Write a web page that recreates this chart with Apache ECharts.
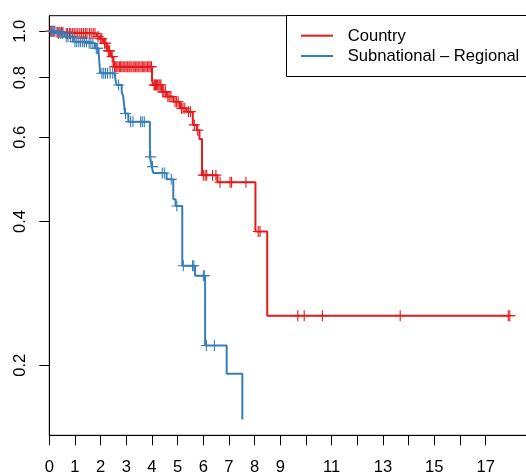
<!DOCTYPE html>
<html><head><meta charset="utf-8">
<script src="https://cdn.jsdelivr.net/npm/echarts@6/dist/echarts.min.js"></script>
<style>html,body{margin:0;padding:0;background:#fff}#c{width:526px;height:475px}</style>
</head><body><div id="c"></div>
<script>
const seriesNames = ['Country', 'Subnational \u2013 Regional'];
const seriesColors = ['#E41A1C', '#377EB8'];

const countryTimes = [0, 0.25, 0.6, 1.85, 1.95, 2.1, 2.25, 2.4, 2.5, 4.0, 4.05, 4.38, 4.57, 4.83, 5.09, 5.35, 5.59, 5.75, 5.85, 5.95, 6.55, 8.03, 8.49];
const countrySurv  = [1.0, 0.995, 0.99, 0.975, 0.965, 0.944, 0.91, 0.885, 0.843, 0.79, 0.772, 0.747, 0.73, 0.712, 0.69, 0.679, 0.637, 0.621, 0.595, 0.50, 0.483, 0.381, 0.254];
const countryCensor = [0.04, 0.09, 0.14, 0.19, 0.3, 0.34, 0.41, 0.47, 0.53, 0.66, 0.71, 0.79, 0.84, 0.91, 0.97, 1.04, 1.11, 1.19, 1.26, 1.33, 1.41, 1.47, 1.56, 1.63, 1.71, 1.78, 1.9, 2.0, 2.05, 2.15, 2.2, 2.3, 2.35, 2.45, 2.54, 2.59, 2.63, 2.68, 2.74, 2.78, 2.83, 2.88, 2.94, 2.99, 3.04, 3.1, 3.14, 3.19, 3.26, 3.3, 3.35, 3.41, 3.46, 3.5, 3.57, 3.62, 3.66, 3.72, 3.77, 3.83, 3.88, 3.93, 3.98, 4.08, 4.11, 4.14, 4.18, 4.22, 4.27, 4.31, 4.35, 4.42, 4.46, 4.52, 4.62, 4.67, 4.74, 4.9, 4.96, 5.02, 5.15, 5.21, 5.28, 5.42, 5.5, 5.65, 5.78, 6.0, 6.07, 6.13, 6.36, 6.49, 6.65, 7.04, 7.1, 7.66, 8.14, 8.21, 9.68, 9.93, 10.64, 13.67, 17.88, 17.94];

const regionalTimes = [0, 0.3, 0.6, 0.95, 1.5, 1.78, 1.92, 1.98, 2.56, 2.62, 2.82, 2.88, 2.95, 3.08, 3.92, 3.99, 4.05, 4.57, 4.83, 4.92, 5.18, 5.68, 6.07, 6.91, 7.52];
const regionalSurv  = [1.0, 0.99, 0.974, 0.951, 0.944, 0.921, 0.906, 0.817, 0.803, 0.772, 0.747, 0.730, 0.673, 0.647, 0.546, 0.521, 0.505, 0.49, 0.445, 0.431, 0.323, 0.308, 0.22, 0.192, 0.154];
const regionalCensor = [0.08, 0.15, 0.22, 0.36, 0.45, 0.52, 0.66, 0.73, 0.82, 0.9, 1.0, 1.07, 1.15, 1.22, 1.3, 1.37, 1.45, 1.55, 1.62, 1.7, 1.83, 1.88, 2.05, 2.12, 2.19, 2.27, 2.37, 2.47, 2.7, 2.97, 3.17, 3.26, 3.56, 3.62, 3.7, 3.95, 4.02, 4.4, 4.48, 4.75, 4.97, 5.22, 5.58, 5.63, 6.0, 6.04, 6.12, 6.43];

const xTickValues = [0,1,2,3,4,5,6,7,8,9,10,11,12,13,14,15,16,17];
const xLabelValues = [0,1,2,3,4,5,6,7,8,9,11,13,15,17];
const yTickValues = [0.2, 0.4, 0.6, 0.8, 1.0];

const FONT = '"Liberation Sans", Arial, Helvetica, sans-serif';
const FS = 16.6;

function survAt(times, surv, t) {
  let s = surv[0];
  for (let i = 0; i < times.length; i++) if (times[i] <= t) s = surv[i];
  return s;
}
function lineData(times, surv, censor) {
  const d = times.map((t, i) => [t, Math.log(surv[i])]);
  const lastC = Math.max(...censor);
  if (lastC > times[times.length - 1]) d.push([lastC, Math.log(surv[surv.length - 1])]);
  return d;
}
function censorData(times, surv, censor) {
  return censor.map(t => [t, Math.log(survAt(times, surv, t))]);
}
const crossPath = 'path://M-0.1,-1 L0.1,-1 L0.1,-0.1 L1,-0.1 L1,0.1 L0.1,0.1 L0.1,1 L-0.1,1 L-0.1,0.1 L-1,0.1 L-1,-0.1 L-0.1,-0.1 Z';

const groups = [
  [countryTimes, countrySurv, countryCensor],
  [regionalTimes, regionalSurv, regionalCensor]
];
const series = [];
groups.forEach((g, k) => {
  series.push({
    name: seriesNames[k], type: 'line', step: 'end', symbol: 'none',
    data: lineData(g[0], g[1], g[2]),
    lineStyle: { color: seriesColors[k], width: 2 }, z: 2 + k * 2, animation: false
  });
  series.push({
    name: seriesNames[k] + ' censor', type: 'scatter', symbol: crossPath, symbolSize: 11,
    data: censorData(g[0], g[1], g[2]),
    itemStyle: { color: seriesColors[k], opacity: 1 }, z: 3 + k * 2, animation: false
  });
});

const chart = echarts.init(document.getElementById('c'), null, { renderer: 'canvas' });
chart.setOption({
  animation: false,
  backgroundColor: '#fff',
  grid: { left: 49.3, top: 15.7, right: -20, bottom: 39.7, show: true, borderColor: '#000', borderWidth: 1, containLabel: false, outerBoundsMode: 'none' },
  xAxis: {
    type: 'value', min: 0, max: 19.35,
    axisLine: { show: true, onZero: false, lineStyle: { color: '#000', width: 1 } },
    axisTick: { show: true, length: 10, customValues: xTickValues, lineStyle: { color: '#000', width: 1 } },
    axisLabel: { customValues: xLabelValues, fontSize: FS, fontFamily: FONT, color: '#000', margin: 24 },
    splitLine: { show: false }
  },
  yAxis: {
    type: 'value', min: Math.log(0.14271), max: Math.log(1.0781),
    axisLine: { show: true, onZero: false, lineStyle: { color: '#000', width: 1 } },
    axisTick: { show: true, length: 10, customValues: yTickValues.map(v => Math.log(v)), lineStyle: { color: '#000', width: 1 } },
    axisLabel: { customValues: yTickValues.map(v => Math.log(v)), rotate: 90, fontSize: FS, fontFamily: FONT, color: '#000', margin: 20,
      formatter: v => Math.exp(v).toFixed(1) },
    splitLine: { show: false }
  },
  series: series,
  graphic: [
    { type: 'rect', shape: { x: 286.5, y: 15.5, width: 300, height: 61 }, style: { fill: '#fff', stroke: '#000', lineWidth: 1 }, z: 100 },
    { type: 'line', shape: { x1: 301, y1: 35.7, x2: 333, y2: 35.7 }, style: { stroke: seriesColors[0], lineWidth: 2 }, z: 101 },
    { type: 'line', shape: { x1: 301, y1: 56, x2: 333, y2: 56 }, style: { stroke: seriesColors[1], lineWidth: 2 }, z: 101 },
    { type: 'text', x: 347.7, y: 36, style: { text: seriesNames[0], fontSize: FS, fontFamily: FONT, fill: '#000', verticalAlign: 'middle' }, z: 101 },
    { type: 'text', x: 347.7, y: 56.3, style: { text: seriesNames[1], fontSize: FS, fontFamily: FONT, fill: '#000', verticalAlign: 'middle' }, z: 101 }
  ]
});
</script></body></html>
